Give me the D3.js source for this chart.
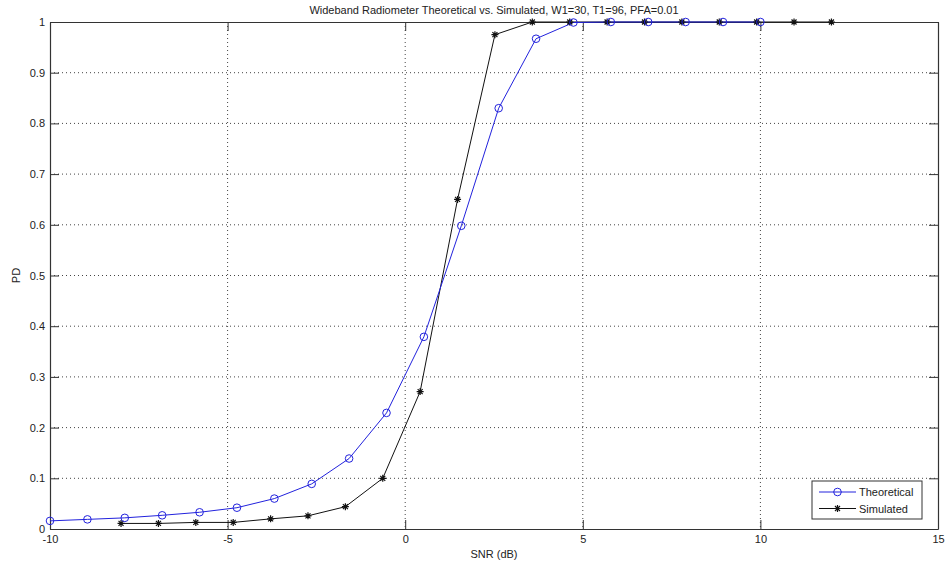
<!DOCTYPE html>
<html>
<head>
<meta charset="utf-8">
<script src="https://cdn.jsdelivr.net/npm/d3@7"></script>
<style>
  body { margin: 0; background: #fff; }
  text { font-family: "Liberation Sans", Arial, sans-serif; font-size: 11px; fill: #222; }
</style>
</head>
<body>
<script>
// SNR values (dB) for each curve
var snrTheory = [-10, -8.947, -7.895, -6.842, -5.789, -4.737, -3.684, -2.632, -1.579, -0.526,
                 0.526, 1.579, 2.632, 3.684, 4.737, 5.789, 6.842, 7.895, 8.947, 10];
var pdTheory = [0.016, 0.019, 0.022, 0.027, 0.033, 0.042, 0.060, 0.089, 0.139, 0.229,
                0.379, 0.598, 0.830, 0.967, 0.999, 1, 1, 1, 1, 1];

var snrSim = [-8, -6.947, -5.895, -4.842, -3.789, -2.737, -1.684, -0.632, 0.421, 1.474,
              2.526, 3.579, 4.632, 5.684, 6.737, 7.789, 8.842, 9.895, 10.947, 12];
var pdSim = [0.011, 0.011, 0.013, 0.013, 0.020, 0.026, 0.044, 0.100, 0.271, 0.650,
             0.975, 1, 1, 1, 1, 1, 1, 1, 1, 1];

var xTicks = [-10, -5, 0, 5, 10, 15];
var yTicks = [0, 0.1, 0.2, 0.3, 0.4, 0.5, 0.6, 0.7, 0.8, 0.9, 1];
var titleText = "Wideband Radiometer Theoretical vs. Simulated, W1=30, T1=96, PFA=0.01";
var legendNames = ["Theoretical", "Simulated"];

var W = 945, H = 564;
var margin = { top: 22, right: 7, bottom: 35, left: 50 };
var w = W - margin.left - margin.right;
var h = H - margin.top - margin.bottom;

var svg = d3.select("body").append("svg")
  .attr("width", W).attr("height", H)
  .append("g")
  .attr("transform", "translate(" + margin.left + "," + margin.top + ")");

var x = d3.scaleLinear().domain([-10, 15]).range([0, w]);
var y = d3.scaleLinear().domain([0, 1]).range([h, 0]);

// dotted grid
svg.append("g").selectAll("line").data(xTicks.slice(1, -1)).enter().append("line")
  .attr("x1", function(d) { return x(d); }).attr("x2", function(d) { return x(d); })
  .attr("y1", 0).attr("y2", h)
  .attr("stroke", "#444").attr("stroke-dasharray", "1,3");
svg.append("g").selectAll("line").data(yTicks.slice(1, -1)).enter().append("line")
  .attr("y1", function(d) { return y(d); }).attr("y2", function(d) { return y(d); })
  .attr("x1", 0).attr("x2", w)
  .attr("stroke", "#444").attr("stroke-dasharray", "1,3");

// axes, ticks inside like matlab
var tl = 9;
var plain = function(d) { return String(+d.toFixed(1)); };
svg.append("g").attr("transform", "translate(0," + h + ")")
  .call(d3.axisBottom(x).tickValues(xTicks).tickSizeInner(-tl).tickSizeOuter(0).tickPadding(6).tickFormat(plain));
svg.append("g").attr("transform", "translate(0,0)")
  .call(d3.axisTop(x).tickValues(xTicks).tickSizeInner(-tl).tickSizeOuter(0).tickFormat(""));
svg.append("g")
  .call(d3.axisLeft(y).tickValues(yTicks).tickSizeInner(-tl).tickSizeOuter(0).tickPadding(5).tickFormat(plain));
svg.append("g").attr("transform", "translate(" + w + ",0)")
  .call(d3.axisRight(y).tickValues(yTicks).tickSizeInner(-tl).tickSizeOuter(0).tickFormat(""));
svg.selectAll(".domain").attr("stroke", "#333").attr("stroke-width", 1.2);
svg.selectAll(".tick line").attr("stroke", "#333");
svg.selectAll(".tick text").style("font-size", "11px").attr("fill", "#222")
  .style("font-family", "'Liberation Sans', Arial, sans-serif");

// lines
var line = d3.line().x(function(d) { return x(d[0]); }).y(function(d) { return y(d[1]); });
var theory = d3.zip(snrTheory, pdTheory);
var sim = d3.zip(snrSim, pdSim);

svg.append("path").datum(sim).attr("d", line)
  .attr("fill", "none").attr("stroke", "#111").attr("stroke-width", 1);
svg.append("path").datum(theory).attr("d", line)
  .attr("fill", "none").attr("stroke", "#2222dd").attr("stroke-width", 1);

var star = "M-3.5,0H3.5M0,-3.5V3.5M-2.5,-2.5L2.5,2.5M-2.5,2.5L2.5,-2.5";

svg.selectAll(".sim").data(sim).enter().append("path")
  .attr("class", "sim")
  .attr("transform", function(d) { return "translate(" + x(d[0]) + "," + y(d[1]) + ")"; })
  .attr("d", star).attr("stroke", "#111").attr("stroke-width", 1.2).attr("fill", "none");

svg.selectAll(".th").data(theory).enter().append("circle")
  .attr("class", "th")
  .attr("cx", function(d) { return x(d[0]); })
  .attr("cy", function(d) { return y(d[1]); })
  .attr("r", 3.8).attr("fill", "none").attr("stroke", "#2222dd").attr("stroke-width", 1);

// title + labels
svg.append("text").attr("x", w / 2).attr("y", -8).attr("text-anchor", "middle").text(titleText);
svg.append("text").attr("x", w / 2).attr("y", h + 29).attr("text-anchor", "middle").text("SNR (dB)");
svg.append("text").attr("transform", "rotate(-90)").attr("x", -h / 2).attr("y", -30)
  .attr("text-anchor", "middle").text("PD");

// legend
var lg = svg.append("g").attr("transform", "translate(" + (812 - margin.left) + "," + (481 - margin.top) + ")");
lg.append("rect").attr("width", 110).attr("height", 38)
  .attr("fill", "#fff").attr("stroke", "#333");
var colors = ["#2222dd", "#111"];
legendNames.forEach(function(name, i) {
  var ly = 11 + i * 16.5;
  lg.append("line").attr("x1", 7).attr("x2", 44).attr("y1", ly).attr("y2", ly)
    .attr("stroke", colors[i]);
  if (i == 0) {
    lg.append("circle").attr("cx", 25.5).attr("cy", ly).attr("r", 3.8)
      .attr("fill", "none").attr("stroke", colors[i]);
  } else {
    lg.append("path").attr("d", star).attr("transform", "translate(25.5," + ly + ")")
      .attr("stroke", colors[i]).attr("stroke-width", 1.2);
  }
  lg.append("text").attr("x", 47).attr("y", ly + 4).text(name);
});
</script>
</body>
</html>
